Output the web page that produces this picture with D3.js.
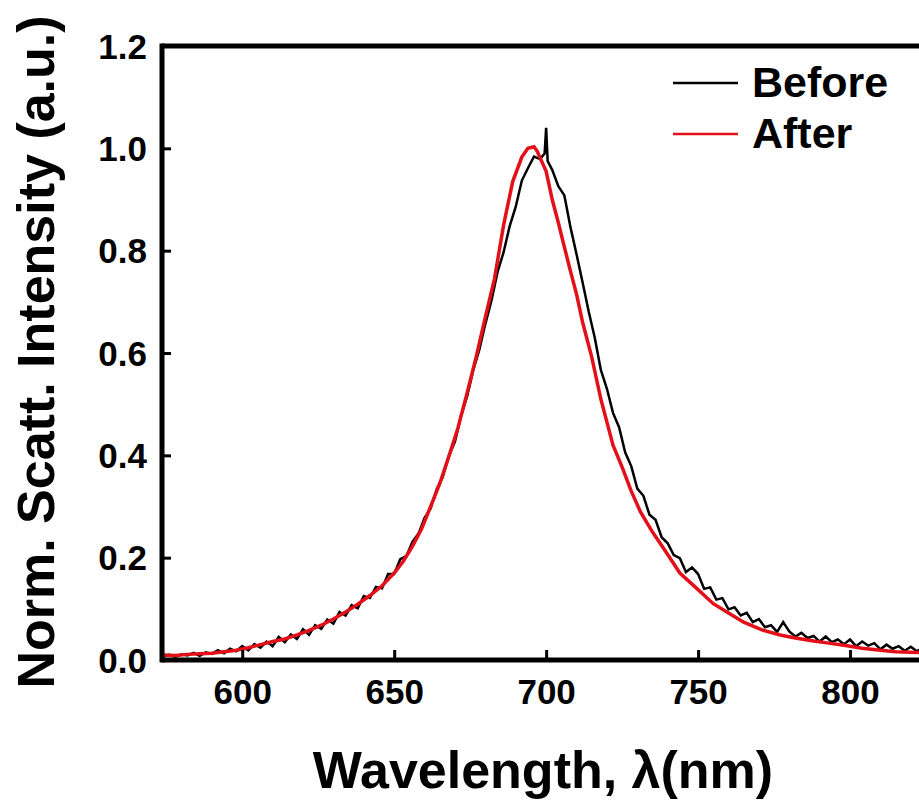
<!DOCTYPE html>
<html>
<head>
<meta charset="utf-8">
<script src="https://cdn.jsdelivr.net/npm/d3@7"></script>
<style>
  body { margin: 0; background: #fff; }
  svg { display: block; font-family: "Liberation Sans", Arial, sans-serif; font-weight: bold; }
</style>
</head>
<body>
<div id="chart"></div>
<script>
// spectrum before (black, noisy)
var beforeWavelength = [574,576,578,580,582,584,586,588,590,592,594,596,598,600,602,604,606,608,610,612,614,616,618,620,622,624,626,628,630,632,634,636,638,640,642,644,646,648,650,652,654,656,658,660,662,664,666,668,670,672,674,676,678,680,682,684,686,688,690,692,694,696,698,699.5,700,700.5,702,704,706,708,710,712,714,716,718,720,722,724,726,728,730,732,734,736,738,740,742,744,746,748,750,752,754,756,758,760,762,764,766,768,770,772,774,776,778,780,782,784,786,788,790,792,794,796,798,800,802,804,806,808,810,812,814,816,818,820,822,824,826,828,830,832,834,836,838,840,842,844,846,848,850];
var beforeIntensity = [0.007,0.010,0.006,0.011,0.009,0.014,0.008,0.015,0.012,0.019,0.013,0.022,0.017,0.027,0.019,0.031,0.024,0.036,0.027,0.045,0.035,0.050,0.041,0.060,0.049,0.068,0.061,0.079,0.071,0.094,0.087,0.107,0.101,0.125,0.121,0.143,0.140,0.168,0.168,0.197,0.203,0.231,0.247,0.278,0.296,0.334,0.358,0.399,0.427,0.477,0.515,0.566,0.606,0.657,0.702,0.758,0.797,0.848,0.886,0.937,0.961,0.984,0.979,0.990,1.040,0.975,0.958,0.926,0.908,0.846,0.793,0.738,0.681,0.630,0.567,0.530,0.483,0.455,0.406,0.379,0.335,0.321,0.284,0.274,0.240,0.228,0.205,0.199,0.172,0.181,0.168,0.139,0.142,0.118,0.121,0.099,0.103,0.087,0.092,0.074,0.080,0.064,0.068,0.055,0.074,0.056,0.046,0.053,0.043,0.047,0.036,0.046,0.035,0.040,0.031,0.040,0.027,0.036,0.028,0.033,0.021,0.030,0.022,0.027,0.018,0.026,0.017,0.024,0.015,0.022,0.014,0.020,0.013,0.019,0.012,0.018,0.012,0.017,0.011,0.016,0.010];

// spectrum after (red)
var afterWavelength = [574,578,582,586,590,594,598,602,606,610,614,618,622,626,630,634,638,642,646,650,653,656,659,662,665,668,671,674,677,680,683,686,689,692,694,696,697,698.5,700,702,704,706,708,710,712,715,718,720,722,725,728,731,735,739,744,749,755,760,765,771,777,782,788,793,799,804,810,815,820,825,835,850];
var afterIntensity = [0.010,0.009,0.011,0.012,0.013,0.016,0.019,0.024,0.030,0.036,0.041,0.049,0.058,0.068,0.080,0.094,0.109,0.126,0.145,0.170,0.193,0.222,0.256,0.300,0.345,0.398,0.454,0.522,0.593,0.670,0.745,0.850,0.935,0.983,1.000,1.003,0.995,0.975,0.955,0.900,0.855,0.807,0.760,0.715,0.660,0.592,0.510,0.465,0.420,0.377,0.330,0.290,0.250,0.215,0.170,0.143,0.110,0.092,0.074,0.059,0.049,0.043,0.037,0.033,0.028,0.023,0.019,0.016,0.015,0.014,0.013,0.012];

var xTicks = [600, 650, 700, 750, 800];
var yTicks = [0.0, 0.2, 0.4, 0.6, 0.8, 1.0, 1.2];
var seriesNames = ["Before", "After"];
var seriesColors = ["#000000", "#e3101a"];

var width = 919, height = 800;
var plot = {left: 162, top: 46, bottom: 660, right: 1002};

var svg = d3.select("#chart").append("svg")
  .attr("width", width)
  .attr("height", height);

var xScale = d3.scaleLinear().domain([573.6, 850]).range([plot.left, plot.right]);
var yScale = d3.scaleLinear().domain([0, 1.2]).range([plot.bottom, plot.top]);

var line = d3.line()
  .x(function(d) { return xScale(d[0]); })
  .y(function(d) { return yScale(d[1]); });

svg.append("clipPath").attr("id", "clip")
  .append("rect")
  .attr("x", plot.left).attr("y", plot.top)
  .attr("width", plot.right - plot.left).attr("height", plot.bottom - plot.top);

var curves = svg.append("g").attr("clip-path", "url(#clip)");

curves.append("path")
  .datum(beforeWavelength.map(function(w, i) { return [w, beforeIntensity[i]]; }))
  .attr("d", line)
  .style("fill", "none")
  .style("stroke", seriesColors[0])
  .style("stroke-width", 2.5);

curves.append("path")
  .datum(afterWavelength.map(function(w, i) { return [w, afterIntensity[i]]; }))
  .attr("d", line)
  .style("fill", "none")
  .style("stroke", seriesColors[1])
  .style("stroke-width", 3.5);

// axes, ticks pointing inwards
var xAxis = svg.append("g").attr("transform", "translate(0," + plot.bottom + ")");
xAxis.call(d3.axisBottom(xScale).tickValues(d3.range(575, 850, 25)).tickSize(-4).tickFormat(""));
xAxis.call(d3.axisBottom(xScale).tickValues(xTicks).tickSize(-10).tickFormat(d3.format("d")));
xAxis.selectAll(".domain").remove();
xAxis.selectAll("line").style("stroke", "#000").style("stroke-width", 3);
xAxis.selectAll("text")
  .attr("y", 44)
  .attr("dy", 0)
  .style("font-size", "35px")
  .style("font-family", "Liberation Sans, Arial, sans-serif")
  .style("font-weight", "bold")
  .style("fill", "#000");

var yAxis = svg.append("g").attr("transform", "translate(" + plot.left + ",0)");
yAxis.call(d3.axisLeft(yScale).tickValues(d3.range(0.1, 1.2, 0.2)).tickSize(-5).tickFormat(""));
yAxis.call(d3.axisLeft(yScale).tickValues(yTicks).tickSize(-9).tickFormat(d3.format(".1f")));
yAxis.selectAll(".domain").remove();
yAxis.selectAll("line").style("stroke", "#000").style("stroke-width", 3);
yAxis.selectAll("text")
  .attr("x", -15)
  .attr("dy", "0.35em")
  .style("font-size", "35px")
  .style("font-family", "Liberation Sans, Arial, sans-serif")
  .style("font-weight", "bold")
  .style("fill", "#000");

// frame lines
svg.append("line").attr("x1", plot.left).attr("x2", width).attr("y1", plot.bottom).attr("y2", plot.bottom)
  .style("stroke", "#000").style("stroke-width", 5);
svg.append("line").attr("x1", plot.left).attr("x2", plot.left).attr("y1", plot.top - 2.5).attr("y2", plot.bottom + 2.5)
  .style("stroke", "#000").style("stroke-width", 5);
svg.append("line").attr("x1", plot.left).attr("x2", width).attr("y1", plot.top).attr("y2", plot.top)
  .style("stroke", "#000").style("stroke-width", 5);

// axis titles
svg.append("text")
  .attr("x", 543).attr("y", 788)
  .style("text-anchor", "middle")
  .style("font-size", "52px")
  .text("Wavelength, λ(nm)");

svg.append("text")
  .attr("transform", "translate(54,352) rotate(-90)")
  .style("text-anchor", "middle")
  .style("font-size", "52px")
  .text("Norm. Scatt. Intensity (a.u.)");

// legend
var legend = svg.append("g");
seriesNames.forEach(function(name, i) {
  var y = 83 + i * 51;
  legend.append("line")
    .attr("x1", 673).attr("x2", 738).attr("y1", y).attr("y2", y)
    .style("stroke", seriesColors[i]).style("stroke-width", 2.5);
  legend.append("text")
    .attr("x", 752).attr("y", y + 14)
    .style("font-size", "43px")
    .text(name);
});
</script>
</body>
</html>
